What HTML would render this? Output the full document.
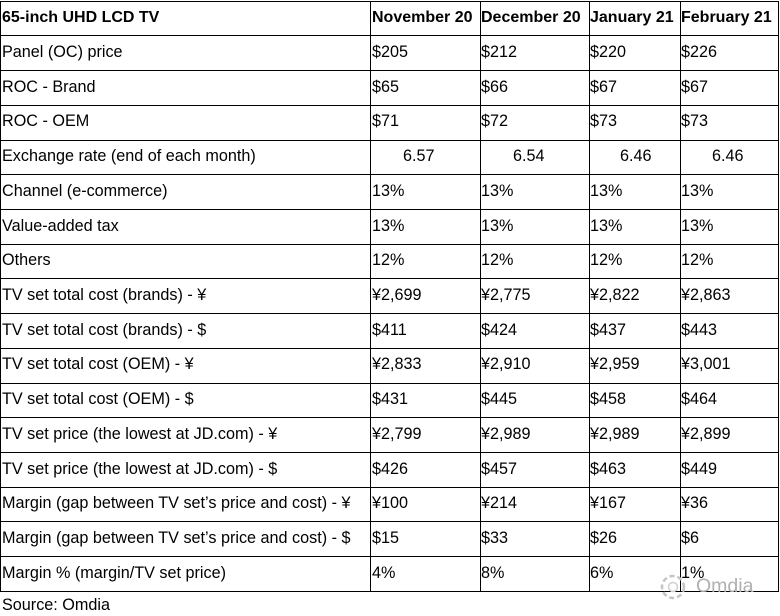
<!DOCTYPE html>
<html><head><meta charset="utf-8">
<style>
html,body{margin:0;padding:0;background:#fff;}
#c{position:relative;width:780px;height:616px;overflow:hidden;background:#fff;font-family:"Liberation Sans",Arial,sans-serif;font-size:16.2px;color:#000;}
.h{position:absolute;left:0;width:779px;height:1px;background:#000;}
.v{position:absolute;top:1px;width:1px;height:591px;background:#000;}
.t{position:absolute;line-height:18px;white-space:nowrap;}
.b{font-weight:bold;font-size:16px;}
</style></head><body><div id="c">
<div class="h" style="top:1px"></div>
<div class="h" style="top:35px"></div>
<div class="h" style="top:70px"></div>
<div class="h" style="top:105px"></div>
<div class="h" style="top:140px"></div>
<div class="h" style="top:174px"></div>
<div class="h" style="top:209px"></div>
<div class="h" style="top:244px"></div>
<div class="h" style="top:278px"></div>
<div class="h" style="top:313px"></div>
<div class="h" style="top:348px"></div>
<div class="h" style="top:383px"></div>
<div class="h" style="top:417px"></div>
<div class="h" style="top:452px"></div>
<div class="h" style="top:487px"></div>
<div class="h" style="top:521px"></div>
<div class="h" style="top:556px"></div>
<div class="h" style="top:591px"></div>
<div class="v" style="left:0px"></div>
<div class="v" style="left:370px"></div>
<div class="v" style="left:480px"></div>
<div class="v" style="left:589px"></div>
<div class="v" style="left:680px"></div>
<div class="v" style="left:778px"></div>

<!-- header -->
<div class="t b" style="left:2px;top:9px">65-inch UHD LCD TV</div>
<div class="t b" style="left:372px;top:9px">November 20</div>
<div class="t b" style="left:481px;top:9px">December 20</div>
<div class="t b" style="left:590px;top:9px">January 21</div>
<div class="t b" style="left:681px;top:9px">February 21</div>

<div class="t" style="left:2px;top:43px">Panel (OC) price</div>
<div class="t" style="left:372px;top:43px">$205</div>
<div class="t" style="left:481px;top:43px">$212</div>
<div class="t" style="left:590px;top:43px">$220</div>
<div class="t" style="left:681px;top:43px">$226</div>

<div class="t" style="left:2px;top:78px">ROC - Brand</div>
<div class="t" style="left:372px;top:78px">$65</div>
<div class="t" style="left:481px;top:78px">$66</div>
<div class="t" style="left:590px;top:78px">$67</div>
<div class="t" style="left:681px;top:78px">$67</div>

<div class="t" style="left:2px;top:112px">ROC - OEM</div>
<div class="t" style="left:372px;top:112px">$71</div>
<div class="t" style="left:481px;top:112px">$72</div>
<div class="t" style="left:590px;top:112px">$73</div>
<div class="t" style="left:681px;top:112px">$73</div>

<div class="t" style="left:2px;top:147px">Exchange rate (end of each month)</div>
<div class="t" style="left:403px;top:147px">6.57</div>
<div class="t" style="left:513px;top:147px">6.54</div>
<div class="t" style="left:620px;top:147px">6.46</div>
<div class="t" style="left:712px;top:147px">6.46</div>

<div class="t" style="left:2px;top:182px">Channel (e-commerce)</div>
<div class="t" style="left:372px;top:182px">13%</div>
<div class="t" style="left:481px;top:182px">13%</div>
<div class="t" style="left:590px;top:182px">13%</div>
<div class="t" style="left:681px;top:182px">13%</div>

<div class="t" style="left:2px;top:217px">Value-added tax</div>
<div class="t" style="left:372px;top:217px">13%</div>
<div class="t" style="left:481px;top:217px">13%</div>
<div class="t" style="left:590px;top:217px">13%</div>
<div class="t" style="left:681px;top:217px">13%</div>

<div class="t" style="left:2px;top:251px">Others</div>
<div class="t" style="left:372px;top:251px">12%</div>
<div class="t" style="left:481px;top:251px">12%</div>
<div class="t" style="left:590px;top:251px">12%</div>
<div class="t" style="left:681px;top:251px">12%</div>

<div class="t" style="left:2px;top:286px">TV set total cost (brands) - ¥</div>
<div class="t" style="left:372px;top:286px">¥2,699</div>
<div class="t" style="left:481px;top:286px">¥2,775</div>
<div class="t" style="left:590px;top:286px">¥2,822</div>
<div class="t" style="left:681px;top:286px">¥2,863</div>

<div class="t" style="left:2px;top:321px">TV set total cost (brands) - $</div>
<div class="t" style="left:372px;top:321px">$411</div>
<div class="t" style="left:481px;top:321px">$424</div>
<div class="t" style="left:590px;top:321px">$437</div>
<div class="t" style="left:681px;top:321px">$443</div>

<div class="t" style="left:2px;top:355px">TV set total cost (OEM) - ¥</div>
<div class="t" style="left:372px;top:355px">¥2,833</div>
<div class="t" style="left:481px;top:355px">¥2,910</div>
<div class="t" style="left:590px;top:355px">¥2,959</div>
<div class="t" style="left:681px;top:355px">¥3,001</div>

<div class="t" style="left:2px;top:390px">TV set total cost (OEM) - $</div>
<div class="t" style="left:372px;top:390px">$431</div>
<div class="t" style="left:481px;top:390px">$445</div>
<div class="t" style="left:590px;top:390px">$458</div>
<div class="t" style="left:681px;top:390px">$464</div>

<div class="t" style="left:2px;top:425px">TV set price (the lowest at JD.com) - ¥</div>
<div class="t" style="left:372px;top:425px">¥2,799</div>
<div class="t" style="left:481px;top:425px">¥2,989</div>
<div class="t" style="left:590px;top:425px">¥2,989</div>
<div class="t" style="left:681px;top:425px">¥2,899</div>

<div class="t" style="left:2px;top:460px">TV set price (the lowest at JD.com) - $</div>
<div class="t" style="left:372px;top:460px">$426</div>
<div class="t" style="left:481px;top:460px">$457</div>
<div class="t" style="left:590px;top:460px">$463</div>
<div class="t" style="left:681px;top:460px">$449</div>

<div class="t" style="left:2px;top:494px">Margin (gap between TV set’s price and cost) - ¥</div>
<div class="t" style="left:372px;top:494px">¥100</div>
<div class="t" style="left:481px;top:494px">¥214</div>
<div class="t" style="left:590px;top:494px">¥167</div>
<div class="t" style="left:681px;top:494px">¥36</div>

<div class="t" style="left:2px;top:529px">Margin (gap between TV set’s price and cost) - $</div>
<div class="t" style="left:372px;top:529px">$15</div>
<div class="t" style="left:481px;top:529px">$33</div>
<div class="t" style="left:590px;top:529px">$26</div>
<div class="t" style="left:681px;top:529px">$6</div>

<div class="t" style="left:2px;top:564px">Margin % (margin/TV set price)</div>
<div class="t" style="left:372px;top:564px">4%</div>
<div class="t" style="left:481px;top:564px">8%</div>
<div class="t" style="left:590px;top:564px">6%</div>
<div class="t" style="left:681px;top:564px">1%</div>

<div class="t" style="left:2px;top:596px">Source: Omdia</div>

<!-- watermark -->
<svg style="position:absolute;left:656px;top:570px" width="34" height="34">
<circle cx="17" cy="17" r="11" fill="none" stroke="#c4c4c4" stroke-width="2.5" stroke-dasharray="5 3"/>
<circle cx="17" cy="17" r="4.5" fill="none" stroke="#cfcfcf" stroke-width="1.5"/>
</svg>
<div class="t" style="left:696px;top:576px;font-size:19.5px;line-height:20px;color:#b0b0b0;">Omdia</div>
</div></body></html>
